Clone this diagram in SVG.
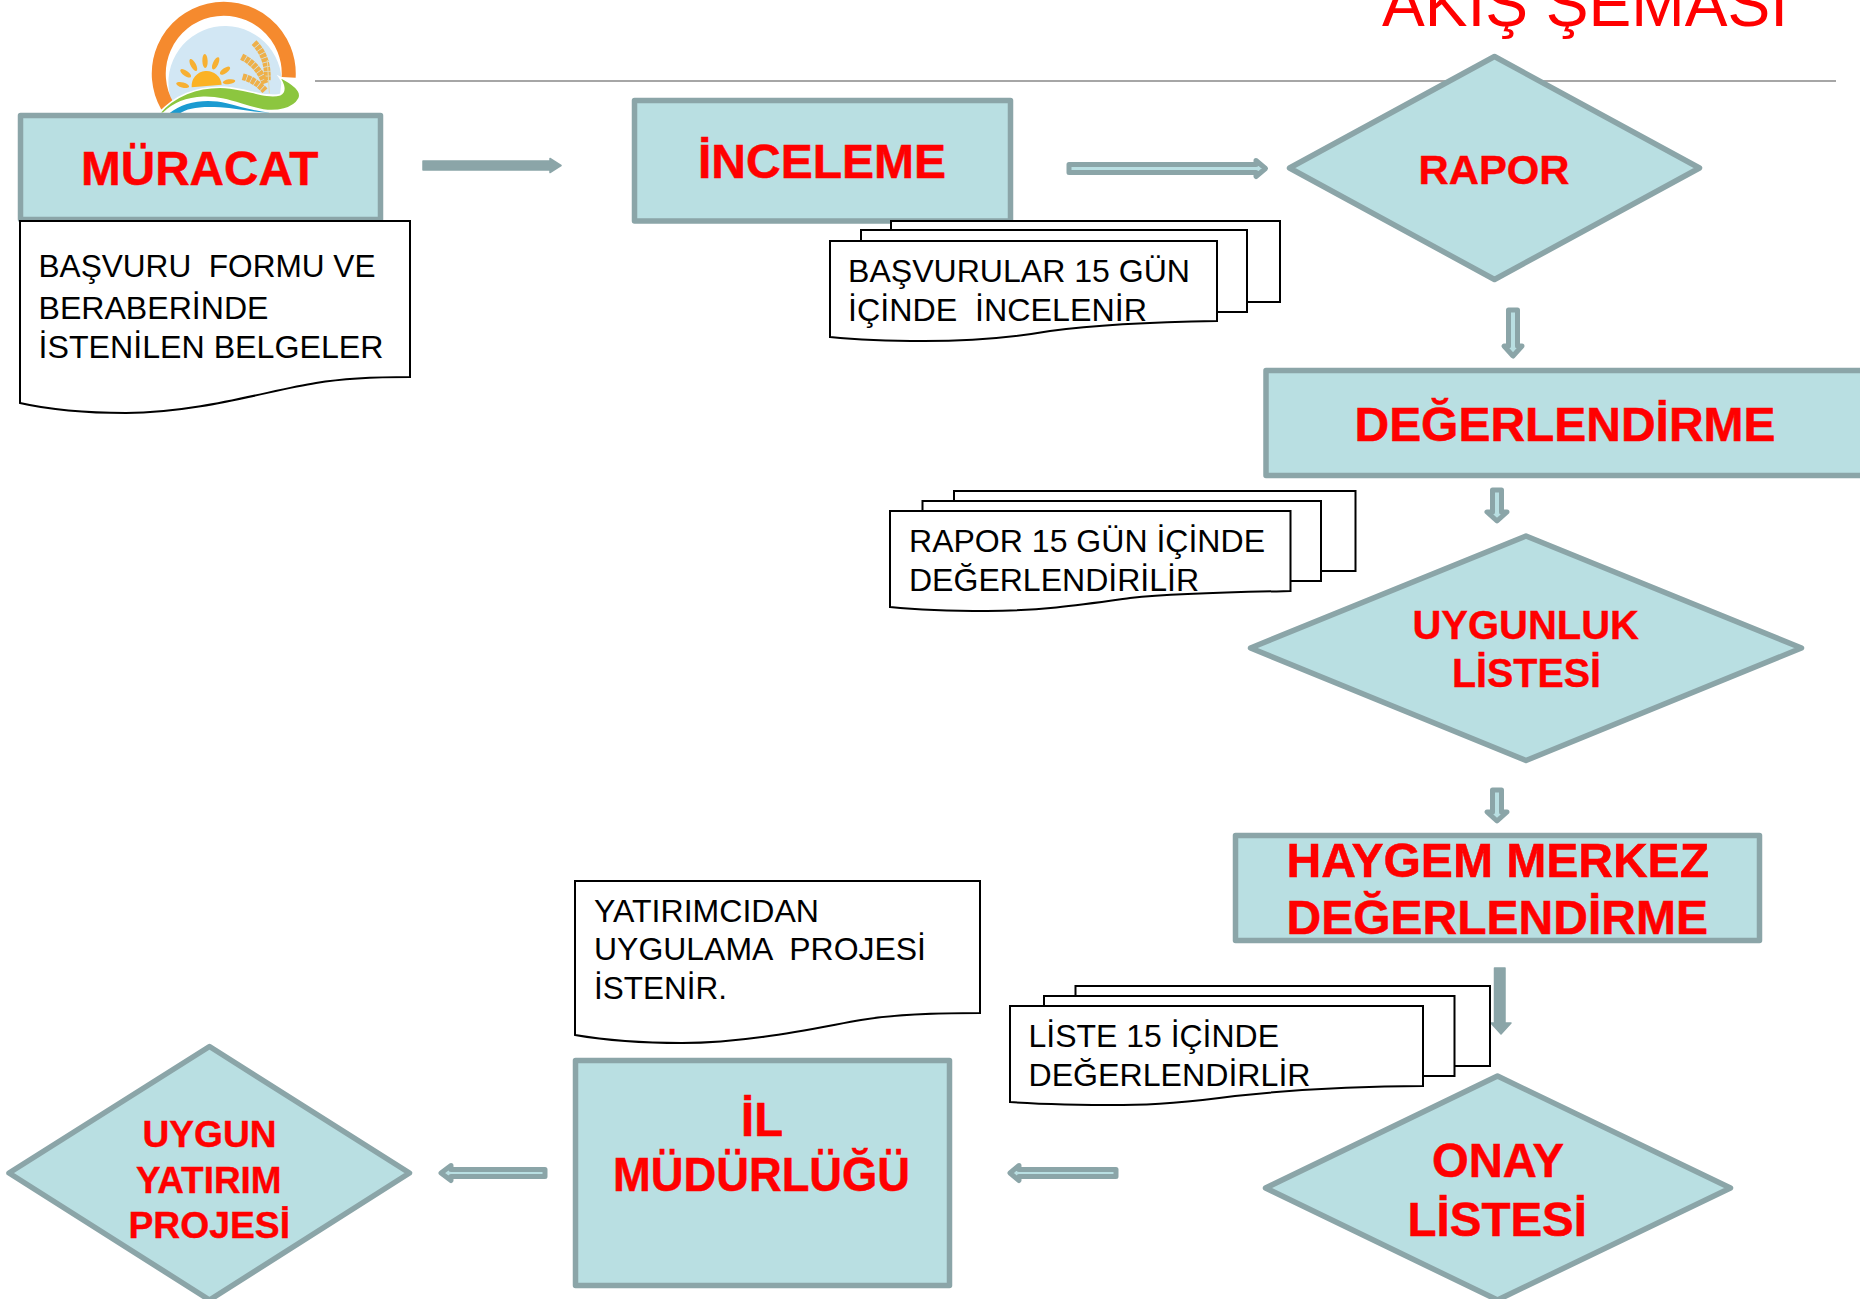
<svg xmlns="http://www.w3.org/2000/svg" width="1860" height="1299" viewBox="0 0 1860 1299">
<style>
.box{fill:#b9dfe2;stroke:#8ba5a8;stroke-width:5.500;stroke-linejoin:round}
.doc{fill:#fff;stroke:#000;stroke-width:2}
.ar{fill:#b9dfe2;stroke:#8ba5a8;stroke-width:5;stroke-linejoin:round}
.as{fill:#8ba5a8;stroke:#8ba5a8;stroke-width:1.500;stroke-linejoin:round}
text{font-family:"Liberation Sans",Arial,sans-serif;white-space:pre}
.t{fill:#000;font-size:32px}
.l{fill:#f00;stroke:#f00;stroke-width:.5;font-weight:bold;font-size:48px}
.m{fill:#f00;stroke:#f00;stroke-width:.4;font-weight:bold;font-size:41.500px}
.s{fill:#f00;stroke:#f00;stroke-width:.4;font-weight:bold;font-size:37.500px}
</style>
<rect width="1860" height="1299" fill="#fff"/>
<text id="title" x="1382" y="26" font-size="65" fill="#f00" textLength="406" lengthAdjust="spacingAndGlyphs">AKIŞ ŞEMASI</text>
<line x1="315" y1="81" x2="1836" y2="81" stroke="#a6a6a6" stroke-width="2"/>
<g id="logo" transform="translate(130 0) scale(.33333)">
<path d="M125 305A170 170 0 1 1 455 240L450 285L300 275Z" fill="#d2e7f4"/>
<path d="M112 318A195 195 0 1 1 476 232" fill="none" stroke="#f58a2e" stroke-width="42"/>
<path d="M185 262A45 45 0 0 1 275 254Z" fill="#fbb224"/>
<g fill="#f7b032">
<ellipse cx="158" cy="255" rx="20" ry="8" transform="rotate(15 158 255)"/>
<ellipse cx="167" cy="220" rx="19" ry="8" transform="rotate(35 167 220)"/>
<ellipse cx="190" cy="195" rx="20" ry="8" transform="rotate(62 190 195)"/>
<ellipse cx="225" cy="183" rx="21" ry="8" transform="rotate(88 225 183)"/>
<ellipse cx="257" cy="190" rx="20" ry="8" transform="rotate(-65 257 190)"/>
<ellipse cx="285" cy="212" rx="18" ry="8" transform="rotate(-35 285 212)"/>
<ellipse cx="297" cy="245" rx="19" ry="7" transform="rotate(-8 297 245)"/>
</g>
<g fill="none" stroke="#eeb04a" stroke-width="20" stroke-dasharray="12 2">
<path d="M372 128Q415 170 412 240"/>
<path d="M335 170Q385 195 405 250"/>
<path d="M338 230Q375 240 405 272"/>
</g>
<path d="M412 180L418 280" stroke="#e8d9a8" stroke-width="3" fill="none"/>
<path d="M88 340C130 290 200 258 285 262C350 266 410 296 450 284C470 275 460 250 447 230C490 250 518 275 507 296C490 328 440 336 400 330C340 320 290 290 220 292C170 294 130 310 100 340Z" fill="#8cc63f" stroke="#fff" stroke-width="5"/>
<path d="M118 340C160 305 230 295 290 310C330 320 370 332 420 338C370 338 320 325 270 322C210 318 170 325 150 340Z" fill="#1b9bd1"/>
</g>
<g id="connectors">
<path class="as" d="M423 161H550V158.500L561 165.500L550 172.500V170H423Z"/>
<path class="ar" d="M1069 164.500H1256V160.500L1265.500 168.500L1256 176.500V172.500H1069Z"/>
<path class="ar" d="M1508.500 310H1517.500V346H1522L1513 356L1504 346H1508.500Z"/>
<path class="ar" d="M1492.500 490H1501.500V512H1507L1497 521L1487 512H1492.500Z"/>
<path class="ar" d="M1492.500 790H1501.500V812H1507L1497 821L1487 812H1492.500Z"/>
<path class="as" d="M1494.500 968H1505V1023H1511L1501 1034L1491 1023H1494.500Z"/>
<path class="ar" d="M1116 1169.500H1019V1165.500L1010 1173L1019 1180.500V1176.500H1116Z"/>
<path class="ar" d="M545 1169.500H451V1165.500L441 1173L451 1180.500V1176.500H545Z"/>
</g>
<g id="muracat">
<rect class="box" x="20.500" y="115.500" width="360" height="104"/>
<text class="l" x="81" y="185" textLength="237.500" lengthAdjust="spacingAndGlyphs">MÜRACAT</text>
</g>
<g id="doc-basvuru">
<path class="doc" d="M20 221H410V377C370 377 340 379 316 383C270 390 200 413 126 413C90 413 55 411 20 403Z"/>
<text class="t" x="38.500" y="277" textLength="337" lengthAdjust="spacingAndGlyphs">BAŞVURU  FORMU VE</text>
<text class="t" x="38.500" y="319" textLength="230" lengthAdjust="spacingAndGlyphs">BERABERİNDE</text>
<text class="t" x="38.500" y="358" textLength="345" lengthAdjust="spacingAndGlyphs">İSTENİLEN BELGELER</text>
</g>
<g id="inceleme">
<rect class="box" x="634.500" y="100.500" width="376" height="120.500"/>
<text class="l" x="698" y="178" textLength="248" lengthAdjust="spacingAndGlyphs">İNCELEME</text>
</g>
<g id="doc-basvurular">
<path class="doc" d="M891 221H1280V302H891Z"/>
<path class="doc" d="M861 230H1247V312H861Z"/>
<path class="doc" d="M830 241H1217V321C1150 322 1094 325 1050 331C1010 338 970 341 924 341C890 341 860 340 830 337Z"/>
<text class="t" x="848" y="282" textLength="342" lengthAdjust="spacingAndGlyphs">BAŞVURULAR 15 GÜN</text>
<text class="t" x="848" y="321" textLength="299" lengthAdjust="spacingAndGlyphs">İÇİNDE  İNCELENİR</text>
</g>
<g id="rapor">
<path class="box" d="M1494.500 56.500L1699.500 168L1494.500 279.500L1289.500 168Z"/>
<text class="m" x="1418.500" y="184" textLength="151" lengthAdjust="spacingAndGlyphs">RAPOR</text>
</g>
<g id="degerlendirme">
<rect class="box" x="1266" y="370.500" width="620" height="105"/>
<text class="l" x="1354.500" y="441" textLength="421" lengthAdjust="spacingAndGlyphs">DEĞERLENDİRME</text>
</g>
<g id="doc-rapor">
<path class="doc" d="M954 491H1355.500V571H954Z"/>
<path class="doc" d="M922.500 501H1321V581H922.500Z"/>
<path class="doc" d="M890 511H1290.500V591C1240 592 1179 593 1130 598C1080 605 1040 611 987 611C950 611 920 610 890 607Z"/>
<text class="t" x="909" y="552" textLength="356" lengthAdjust="spacingAndGlyphs">RAPOR 15 GÜN İÇİNDE</text>
<text class="t" x="909" y="591" textLength="290" lengthAdjust="spacingAndGlyphs">DEĞERLENDİRİLİR</text>
</g>
<g id="uygunluk">
<path class="box" d="M1526 536L1801.500 648L1526 760.500L1250.500 648Z"/>
<text class="m" x="1412.500" y="639" textLength="226.500" lengthAdjust="spacingAndGlyphs">UYGUNLUK</text>
<text class="m" x="1452" y="687" textLength="149" lengthAdjust="spacingAndGlyphs">LİSTESİ</text>
</g>
<g id="haygem">
<rect class="box" x="1235.500" y="835.500" width="524" height="105"/>
<text class="l" x="1286.500" y="877" textLength="422.500" lengthAdjust="spacingAndGlyphs">HAYGEM MERKEZ</text>
<text class="l" x="1286.500" y="934" textLength="421.500" lengthAdjust="spacingAndGlyphs">DEĞERLENDİRME</text>
</g>
<g id="doc-liste">
<path class="doc" d="M1075.500 986H1490V1066H1075.500Z"/>
<path class="doc" d="M1044 996H1454.500V1076H1044Z"/>
<path class="doc" d="M1010 1006H1423V1086C1360 1086 1300 1089 1235 1096C1190 1102 1160 1105 1123 1105C1080 1105 1040 1104 1010 1102Z"/>
<text class="t" x="1028.500" y="1047" textLength="250.500" lengthAdjust="spacingAndGlyphs">LİSTE 15 İÇİNDE</text>
<text class="t" x="1028.500" y="1086" textLength="282" lengthAdjust="spacingAndGlyphs">DEĞERLENDİRLİR</text>
</g>
<g id="onay">
<path class="box" d="M1497.500 1076L1730.500 1188L1497.500 1300L1265.500 1188Z"/>
<text class="l" x="1432" y="1177" textLength="132" lengthAdjust="spacingAndGlyphs">ONAY</text>
<text class="l" x="1407.500" y="1236" textLength="179.500" lengthAdjust="spacingAndGlyphs">LİSTESİ</text>
</g>
<g id="il-mudurlugu">
<rect class="box" x="575.500" y="1060.500" width="374" height="225"/>
<text class="l" x="741" y="1136" textLength="42" lengthAdjust="spacingAndGlyphs">İL</text>
<text class="l" x="613" y="1191" textLength="297" lengthAdjust="spacingAndGlyphs">MÜDÜRLÜĞÜ</text>
</g>
<g id="doc-yatirimcidan">
<path class="doc" d="M575 881H980V1013C930 1013 890 1015 861 1020C820 1027 750 1043 682 1043C640 1043 610 1041 575 1035Z"/>
<text class="t" x="594" y="922" textLength="225" lengthAdjust="spacingAndGlyphs">YATIRIMCIDAN</text>
<text class="t" x="594" y="960" textLength="332" lengthAdjust="spacingAndGlyphs">UYGULAMA  PROJESİ</text>
<text class="t" x="594" y="999" textLength="133" lengthAdjust="spacingAndGlyphs">İSTENİR.</text>
</g>
<g id="uygun-yatirim">
<path class="box" d="M209.500 1046.500L409.500 1173L209.500 1300L9 1173Z"/>
<text class="s" x="142.500" y="1147" textLength="134" lengthAdjust="spacingAndGlyphs">UYGUN</text>
<text class="s" x="136" y="1193" textLength="145.500" lengthAdjust="spacingAndGlyphs">YATIRIM</text>
<text class="s" x="128.500" y="1238" textLength="161.500" lengthAdjust="spacingAndGlyphs">PROJESİ</text>
</g>
</svg>
